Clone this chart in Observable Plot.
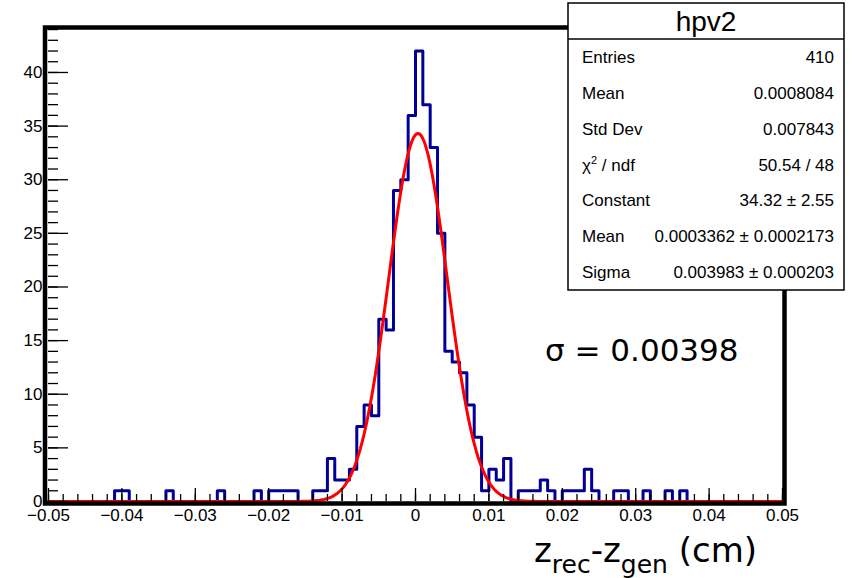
<!DOCTYPE html>
<html><head><meta charset="utf-8">
<script src="https://cdn.jsdelivr.net/npm/d3@7"></script>
<script src="https://cdn.jsdelivr.net/npm/@observablehq/plot@0.6"></script>
<style>body{margin:0;background:#fff} svg{display:block}</style>
</head><body><div id="chart"></div>
<script>
// Histogram hpv2: 100 bins from -0.05 to 0.05
const binLow = -0.05;
const binHigh = 0.05;
const binWidth = 0.001;
const counts = [
  0,0,0,0,0,0,0,0,0,1,  1,0,0,0,0,0,1,0,0,0,
  0,0,0,1,0,0,0,0,1,0,  1,1,1,1,0,0,1,1,4,2,
  2,3,7,9,8,17,16,29,30,36, 42,37,33,25,14,13,12,9,6,1,
  3,2,4,0,1,1,1,2,1,0,  1,1,1,3,1,0,0,1,1,0,
  0,1,0,0,1,0,1,0,0,0,  0,0,0,0,0,0,0,0,0,0
];
// Gaussian fit parameters (from stats box)
const fitConstant = 34.32;
const fitMean = 0.0003362;
const fitSigma = 0.003983;
// axis ticks
const xMajorTicks = [-0.05,-0.04,-0.03,-0.02,-0.01,0,0.01,0.02,0.03,0.04,0.05];
const yMajorTicks = [0,5,10,15,20,25,30,35,40];
const yMax = 44.1;
// stats box
const statsTitle = "hpv2";
const statsLabels = ["Entries","Mean","Std Dev","χ2 / ndf","Constant","Mean","Sigma"];
const statsValues = ["410","0.0008084","0.007843","50.54 / 48","34.32 ± 2.55","0.0003362 ± 0.0002173","0.003983 ± 0.000203"];
const sigmaText = "σ = 0.00398";

const W = 861, H = 578, mL = 48, mR = 79, mT = 28, mB = 77;
const innerW = W - mL - mR, innerH = H - mT - mB;

const stepPts = counts.map((c, i) => ({x: binLow + i * binWidth, y: c}));
stepPts.push({x: binHigh, y: counts[counts.length - 1]});

const fitPts = d3.range(0, 401).map(i => {
  const x = binLow + i * (binHigh - binLow) / 400;
  return {x, y: fitConstant * Math.exp(-0.5 * ((x - fitMean) / fitSigma) ** 2)};
});

const xMinor = d3.range(-25, 26).map(i => i / 500);
const yMinor = d3.range(0, 45);
const fmtX = d => Math.abs(d) < 1e-9 ? "0" : (d < 0 ? "−" : "") + Math.abs(d).toFixed(2);

const plot = Plot.plot({
  width: W, height: H,
  marginLeft: mL, marginRight: mR, marginTop: mT, marginBottom: mB,
  style: {fontFamily: "'Liberation Sans', Arial, sans-serif", background: "white", overflow: "visible"},
  x: {domain: [binLow, binHigh]},
  y: {domain: [0, yMax]},
  marks: [
    Plot.line(stepPts, {x: "x", y: "y", curve: "step-after", stroke: "#000099", strokeWidth: 3}),
    Plot.line(fitPts, {x: "x", y: "y", stroke: "#ff0000", strokeWidth: 3}),
    Plot.frame({stroke: "black", strokeWidth: 4.5, insetLeft: -3.5, insetTop: -1, insetBottom: -2, insetRight: -2}),
    Plot.tickX(xMinor, {x: d => d, insetTop: innerH - 7, stroke: "black", strokeWidth: 1.3}),
    Plot.tickX(xMajorTicks, {x: d => d, insetTop: innerH - 13, stroke: "black", strokeWidth: 1.3}),
    Plot.tickY(yMinor, {y: d => d, insetRight: innerW - 10, stroke: "black", strokeWidth: 1.3}),
    Plot.tickY(yMajorTicks, {y: d => d, insetRight: innerW - 20, stroke: "black", strokeWidth: 1.3}),
    Plot.axisX(xMajorTicks, {tickSize: 0, tickPadding: 7, tickFormat: fmtX, fontSize: 17, label: null}),
    Plot.axisY(yMajorTicks, {tickSize: 0, tickPadding: 6, fontSize: 17, label: null})
  ]
});

const svg = d3.select(plot);

// sigma annotation
svg.append("text").attr("x", 545).attr("y", 361).attr("text-anchor", "start")
  .attr("font-family", "'DejaVu Sans', sans-serif").attr("font-size", 31).attr("fill", "black")
  .text(sigmaText);

// x axis title
const t = svg.append("text").attr("x", 534).attr("y", 562).attr("text-anchor", "start")
  .attr("font-family", "'DejaVu Sans', sans-serif").attr("font-size", 34).attr("fill", "black");
t.append("tspan").text("z");
t.append("tspan").attr("font-size", 25).attr("dy", 11).text("rec");
t.append("tspan").attr("dy", -11).text("-z");
t.append("tspan").attr("font-size", 25).attr("dy", 11).text("gen");
t.append("tspan").attr("dy", -11).text(" (cm)");

// stats box
const bx1 = 568, bx2 = 844, by1 = 3, by2 = 290, titleBottom = 39;
const g = svg.append("g").attr("font-family", "'Liberation Sans', Arial, sans-serif");
g.append("rect").attr("x", bx1).attr("y", by1).attr("width", bx2 - bx1).attr("height", by2 - by1)
  .attr("fill", "white").attr("stroke", "black").attr("stroke-width", 1.5);
g.append("line").attr("x1", bx1).attr("x2", bx2).attr("y1", titleBottom).attr("y2", titleBottom)
  .attr("stroke", "black").attr("stroke-width", 1.5);
g.append("text").attr("x", (bx1 + bx2) / 2).attr("y", 31).attr("text-anchor", "middle")
  .attr("font-size", 28).text(statsTitle);
const rowH = (by2 - titleBottom) / statsLabels.length;
statsLabels.forEach((lab, i) => {
  const cy = titleBottom + rowH * (i + 0.5);
  const lt = g.append("text").attr("x", 582).attr("y", cy + 6).attr("text-anchor", "start").attr("font-size", 17);
  if (lab.startsWith("χ2")) {
    lt.append("tspan").text("χ");
    lt.append("tspan").attr("font-size", 11).attr("dy", -7).text("2");
    lt.append("tspan").attr("dy", 7).text(" / ndf");
  } else lt.text(lab);
  g.append("text").attr("x", 834).attr("y", cy + 6).attr("text-anchor", "end").attr("font-size", 17)
    .text(statsValues[i]);
});

document.getElementById("chart").appendChild(plot);
</script></body></html>
